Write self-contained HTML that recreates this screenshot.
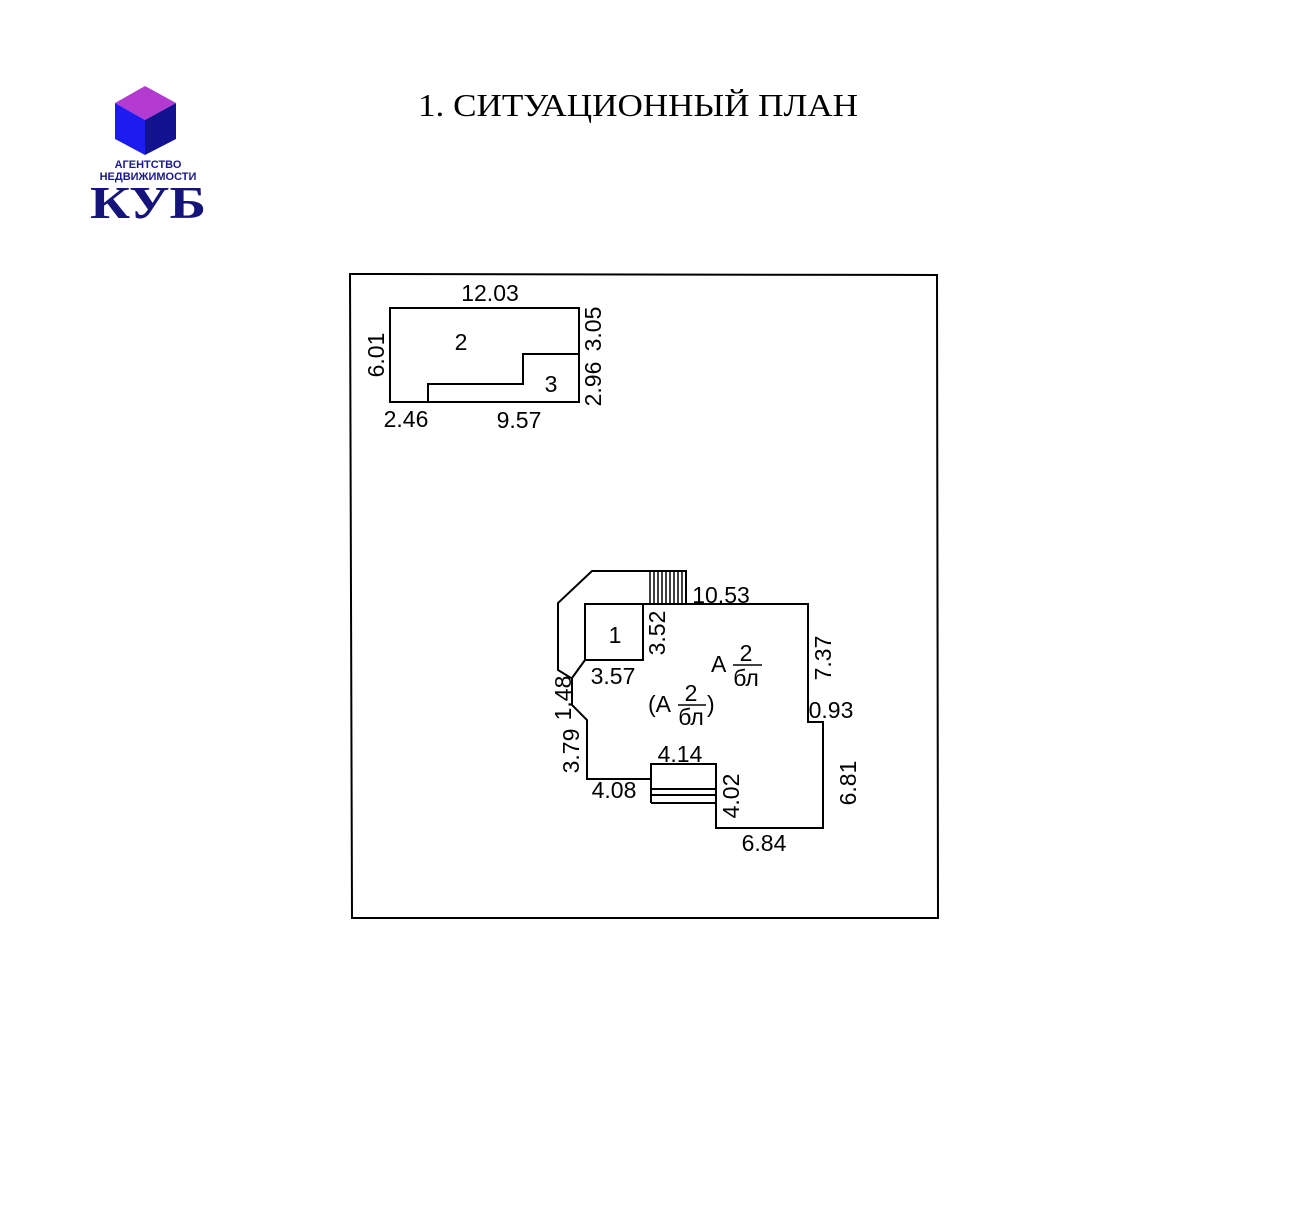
<!DOCTYPE html>
<html><head><meta charset="utf-8"><style>
html,body{margin:0;padding:0;background:#fff;}
svg{display:block;}
.t{font-family:"Liberation Sans","DejaVu Sans",sans-serif;font-size:23px;fill:#000;}
</style></head><body>
<svg width="1294" height="1215" viewBox="0 0 1294 1215" xmlns="http://www.w3.org/2000/svg">
<rect width="1294" height="1215" fill="#fff"/>
<polygon points="145,86 176,103 145,120 115,103" fill="#b23ad0"/>
<polygon points="115,103 145,120 145,155 115,139" fill="#1c1cf0"/>
<polygon points="145,120 176,103 176,139 145,155" fill="#121290"/>
<text x="148" y="168" text-anchor="middle" font-family="Liberation Sans,sans-serif" font-weight="bold" font-size="11" fill="#1a1a8a">АГЕНТСТВО</text>
<text x="148" y="180" text-anchor="middle" font-family="Liberation Sans,sans-serif" font-weight="bold" font-size="11" fill="#1a1a8a">НЕДВИЖИМОСТИ</text>
<text x="148" y="218" text-anchor="middle" font-family="Liberation Serif,serif" font-weight="bold" font-size="46" fill="#14147a" textLength="116" lengthAdjust="spacingAndGlyphs">КУБ</text>
<text x="418" y="116" font-family="Liberation Serif,serif" font-size="32" fill="#000" textLength="440" lengthAdjust="spacingAndGlyphs">1. СИТУАЦИОННЫЙ ПЛАН</text>
<g fill="none" stroke="#000" stroke-width="2">
<polygon points="350,274 937,275 938,918 352,918"/>
<rect x="390" y="308" width="189" height="94"/>
<polyline points="428,402 428,384 523,384 523,354 579,354"/>
<polyline points="585,604 808,604 808,722 823,722 823,828 716,828 716,764 651,764 651,779 587,779 587,720 572,705 572,678 585,660 585,604"/>
<rect x="585" y="604" width="58" height="56"/>
<polyline points="571,678 558,670 558,603 592,571 686,571 686,604"/>
<line x1="651" y1="764" x2="651" y2="803"/>
<line x1="651" y1="789" x2="716" y2="789"/>
<line x1="651" y1="795" x2="716" y2="795"/>
<line x1="651" y1="803" x2="716" y2="803"/>
</g>
<g stroke="#000" stroke-width="1.5">
<line x1="650" y1="571" x2="650" y2="604"/><line x1="654" y1="571" x2="654" y2="604"/><line x1="658" y1="571" x2="658" y2="604"/><line x1="662" y1="571" x2="662" y2="604"/><line x1="666" y1="571" x2="666" y2="604"/><line x1="670" y1="571" x2="670" y2="604"/><line x1="674" y1="571" x2="674" y2="604"/><line x1="678" y1="571" x2="678" y2="604"/><line x1="682" y1="571" x2="682" y2="604"/>
</g>
<g>
<text x="490" y="301" text-anchor="middle" class="t">12.03</text>
<text x="461" y="350" text-anchor="middle" class="t">2</text>
<text x="551" y="392" text-anchor="middle" class="t">3</text>
<text x="406" y="427" text-anchor="middle" class="t">2.46</text>
<text x="519" y="428" text-anchor="middle" class="t">9.57</text>
<text transform="translate(384,355) rotate(-90)" text-anchor="middle" class="t">6.01</text>
<text transform="translate(601,329) rotate(-90)" text-anchor="middle" class="t">3.05</text>
<text transform="translate(601,384) rotate(-90)" text-anchor="middle" class="t">2.96</text>
<text x="721" y="603" text-anchor="middle" class="t">10.53</text>
<text x="615" y="643" text-anchor="middle" class="t">1</text>
<text transform="translate(665,633) rotate(-90)" text-anchor="middle" class="t">3.52</text>
<text x="613" y="684" text-anchor="middle" class="t">3.57</text>
<text transform="translate(831,658) rotate(-90)" text-anchor="middle" class="t">7.37</text>
<text x="831" y="718" text-anchor="middle" class="t">0.93</text>
<text transform="translate(571,698) rotate(-90)" text-anchor="middle" class="t">1.48</text>
<text transform="translate(579,751) rotate(-90)" text-anchor="middle" class="t">3.79</text>
<text x="680" y="762" text-anchor="middle" class="t">4.14</text>
<text x="614" y="798" text-anchor="middle" class="t">4.08</text>
<text transform="translate(739,796) rotate(-90)" text-anchor="middle" class="t">4.02</text>
<text transform="translate(856,783) rotate(-90)" text-anchor="middle" class="t">6.81</text>
<text x="764" y="851" text-anchor="middle" class="t">6.84</text>
<text x="711" y="672" class="t">A</text>
<text x="746" y="661" text-anchor="middle" class="t">2</text>
<text x="746" y="686" text-anchor="middle" class="t">бл</text>
<text x="648" y="712" class="t">(A</text>
<text x="691" y="701" text-anchor="middle" class="t">2</text>
<text x="691" y="725" text-anchor="middle" class="t">бл</text>
<text x="707" y="712" class="t">)</text>
</g>
<line x1="733" y1="665" x2="762" y2="665" stroke="#000" stroke-width="1.5"/>
<line x1="678" y1="705" x2="706" y2="705" stroke="#000" stroke-width="1.5"/>
</svg>
</body></html>
